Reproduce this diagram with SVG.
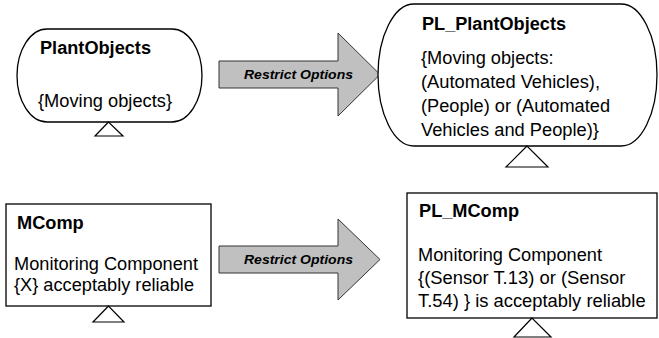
<svg xmlns="http://www.w3.org/2000/svg" width="659" height="338" viewBox="0 0 659 338">
<style>
.shape{fill:#fff;stroke:#000;stroke-width:1.3}
.tri{fill:#fff;stroke:#000;stroke-width:1.2}
.arrow{fill:#c0c0c0;stroke:#333;stroke-width:1}
.t{font-family:"Liberation Sans",Arial,sans-serif;font-size:17.5px;fill:#000}
.b{font-weight:bold}
.lbl{font-family:"Liberation Sans",Arial,sans-serif;font-size:12.8px;font-weight:bold;font-style:italic;fill:#000}
</style>
<rect width="659" height="338" fill="#fff"/>
<g id="connectors">
<path class="arrow" d="M219,61 H338 V33 L380,74.5 L338,116 V88 H219 Z"/>
<text class="lbl" x="244" y="79" textLength="109" lengthAdjust="spacingAndGlyphs">Restrict Options</text>
<path class="arrow" d="M219,246 H338 V219 L380,259.5 L338,300 V273 H219 Z"/>
<text class="lbl" x="244" y="264" textLength="109" lengthAdjust="spacingAndGlyphs">Restrict Options</text>
</g>
<g id="PlantObjects">
<rect class="shape" x="17" y="29" width="185" height="93" rx="30" ry="46.5"/>
<path class="tri" d="M108.5,122 L95,136 L123,136 Z"/>
<text class="t b" x="40" y="54" textLength="111" lengthAdjust="spacingAndGlyphs">PlantObjects</text>
<text class="t" x="38" y="107" textLength="134" lengthAdjust="spacingAndGlyphs">{Moving objects}</text>
</g>
<g id="PL_PlantObjects">
<rect class="shape" x="378" y="4" width="279" height="142" rx="36" ry="71"/>
<path class="tri" d="M527,146 L506,167 L548,167 Z"/>
<text class="t b" x="422" y="30" textLength="144" lengthAdjust="spacingAndGlyphs">PL_PlantObjects</text>
<text class="t" x="421" y="64" textLength="132.6" lengthAdjust="spacingAndGlyphs">{Moving objects:</text>
<text class="t" x="421" y="88" textLength="179" lengthAdjust="spacingAndGlyphs">(Automated Vehicles),</text>
<text class="t" x="421" y="112" textLength="189" lengthAdjust="spacingAndGlyphs">(People) or (Automated</text>
<text class="t" x="421" y="136" textLength="178" lengthAdjust="spacingAndGlyphs">Vehicles and People)}</text>
</g>
<g id="MComp">
<rect class="shape" x="6" y="204" width="205" height="102"/>
<path class="tri" d="M108.5,306 L93,322 L124,322 Z"/>
<text class="t b" x="17" y="229" textLength="66.7" lengthAdjust="spacingAndGlyphs">MComp</text>
<text class="t" x="14" y="270" textLength="184" lengthAdjust="spacingAndGlyphs">Monitoring Component</text>
<text class="t" x="14" y="291" textLength="180" lengthAdjust="spacingAndGlyphs">{X} acceptably reliable</text>
</g>
<g id="PL_MComp">
<rect class="shape" x="407" y="193" width="250" height="125"/>
<path class="tri" d="M532,318 L514,337 L551,337 Z"/>
<text class="t b" x="419" y="217" textLength="100" lengthAdjust="spacingAndGlyphs">PL_MComp</text>
<text class="t" x="418" y="261" textLength="184" lengthAdjust="spacingAndGlyphs">Monitoring Component</text>
<text class="t" x="418" y="284" textLength="207.4" lengthAdjust="spacingAndGlyphs">{(Sensor T.13) or (Sensor</text>
<text class="t" x="418" y="307" textLength="227.6" lengthAdjust="spacingAndGlyphs">T.54) } is acceptably reliable</text>
</g>
</svg>
